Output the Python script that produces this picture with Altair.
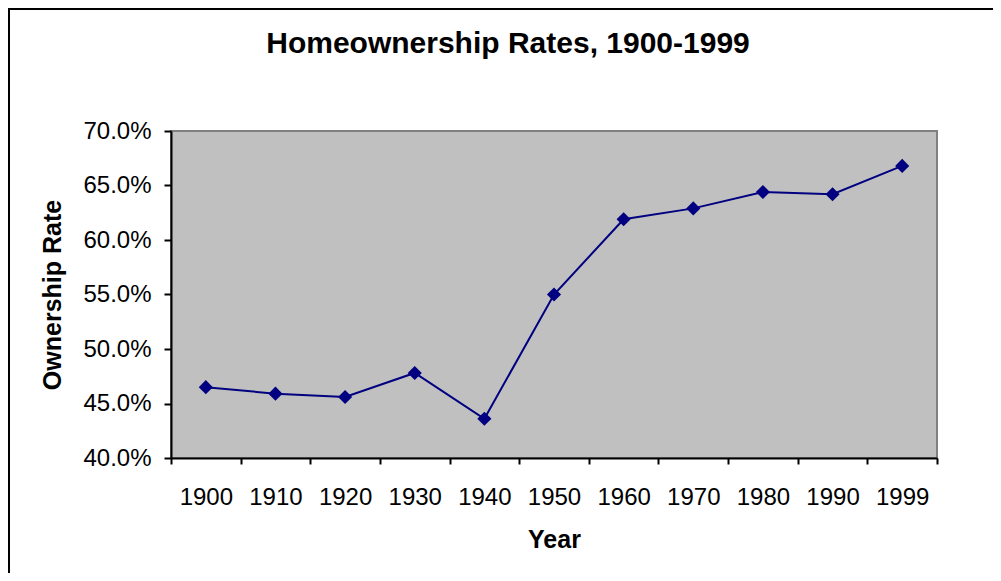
import altair as alt
import pandas as pd

years = ["1900", "1910", "1920", "1930", "1940", "1950", "1960", "1970", "1980", "1990", "1999"]
rates = [0.465, 0.459, 0.456, 0.478, 0.436, 0.550, 0.619, 0.629, 0.644, 0.642, 0.668]
y_ticks = [0.40, 0.45, 0.50, 0.55, 0.60, 0.65, 0.70]

df = pd.DataFrame({"Year": years, "Rate": rates})

FONT = "Liberation Sans"
NAVY = "#000080"

x_enc = alt.X(
    "Year:O",
    bandPosition=0.5,
    scale=alt.Scale(type="band", domain=years, paddingInner=0, paddingOuter=0),
    axis=alt.Axis(
        title="Year",
        labelAngle=0,
        tickBand="extent",
        tickSize=6,
        tickWidth=2,
        tickColor="black",
        domainColor="black",
        domainWidth=2,
        labelFont=FONT,
        labelFontSize=24,
        labelColor="black",
        labelPadding=33,
        labelBaseline="middle",
        titleFont=FONT,
        titleFontSize=25,
        titleFontWeight="bold",
        titleColor="black",
        titleX=383,
        titleY=81,
        titleBaseline="middle",
        grid=False,
    ),
)

y_enc = alt.Y(
    "Rate:Q",
    scale=alt.Scale(domain=[0.40, 0.70], zero=False, nice=False),
    axis=alt.Axis(
        title="Ownership Rate",
        values=y_ticks,
        format=".1%",
        tickSize=7,
        tickWidth=2,
        tickColor="black",
        domainColor="black",
        domainWidth=2,
        labelFont=FONT,
        labelFontSize=24,
        labelColor="black",
        labelPadding=13,
        titleFont=FONT,
        titleFontSize=25,
        titleFontWeight="bold",
        titleColor="black",
        titleX=-119,
        titleY=163.5,
        titleAngle=-90,
        titleBaseline="middle",
        titleAlign="center",
        grid=False,
    ),
)

line = alt.Chart(df).mark_line(color=NAVY, strokeWidth=2).encode(x=x_enc, y=y_enc)
points = alt.Chart(df).mark_point(shape="diamond", filled=True, color=NAVY, size=200, opacity=1).encode(
    x=x_enc, y=y_enc
)

border = alt.Chart(pd.DataFrame({"a": [0]})).mark_rect(
    fill=None, stroke="black", strokeWidth=2
).encode(
    x=alt.value(-162), x2=alt.value(840), y=alt.value(-122), y2=alt.value(460)
)

chart = alt.layer(line, points, border).properties(
    width=766,
    height=327,
    autosize=alt.AutoSizeParams(type="none"),
    padding={"left": 163, "top": 123, "right": 56, "bottom": 115},
    title=alt.TitleParams(
        "Homeownership Rates, 1900-1999",
        font=FONT,
        fontSize=30,
        fontWeight="bold",
        color="black",
        anchor="middle",
        dx=-46,
        offset=-51,
    ),
    background="white",
).configure_view(
    fill="#C0C0C0", stroke="#808080", strokeWidth=2
)

chart.save("out.html", embed_options={"renderer": "svg", "actions": False})
